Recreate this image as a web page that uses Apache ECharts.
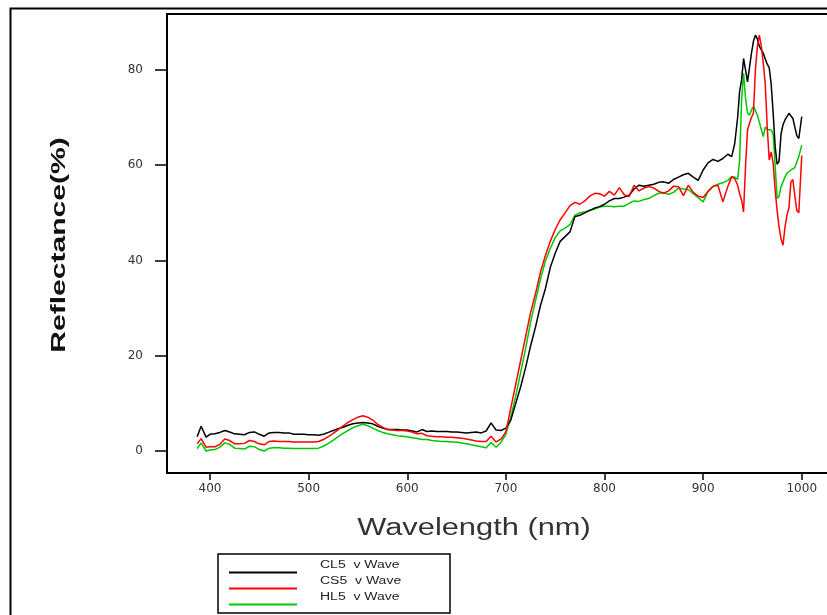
<!DOCTYPE html>
<html>
<head>
<meta charset="utf-8">
<script src="https://cdn.jsdelivr.net/npm/echarts@6/dist/echarts.min.js"></script>
<style>
  html, body { margin: 0; padding: 0; background: #ffffff; }
  #chart { width: 827px; height: 615px; }
</style>
</head>
<body>
<div id="chart"></div>
<script>
// Wavelength samples (nm)
const wavelength = [
  387, 391, 396,
  400, 405, 410, 415, 420, 425, 430, 435, 440, 445,
  450, 455, 460, 465, 470, 475, 480, 485, 490, 495,
  500, 505, 510, 515, 520, 525, 530, 535, 540, 545,
  550, 555, 560, 565, 570, 575, 580, 585, 590, 595,
  600, 605, 610, 615, 620, 625, 630, 635, 640, 645,
  650, 655, 660, 665, 670, 675, 680, 685, 690, 695,
  700, 705, 710, 715, 720, 725, 730, 735, 740, 745,
  750, 755, 760, 765, 770, 775, 780, 785, 790, 795,
  800, 805, 810, 815, 820, 825, 830, 835, 840, 845,
  850, 855, 860, 865, 870, 875, 880, 885, 890, 895,
  900, 905, 910, 915, 920, 925,
  929, 932, 935,
  937, 939, 941, 943, 945, 947, 949, 951, 953, 955,
  957, 959, 961, 963, 965, 967, 969, 971, 973, 975,
  977, 979, 981, 983, 985, 987, 989, 991, 993, 995,
  997, 1000
];

// Reflectance (%) per sample
const cl5 = [
  3.0, 5.2, 2.9,
  3.5, 3.6, 3.9, 4.3, 4.0, 3.6, 3.5, 3.4, 3.9, 4.0,
  3.5, 3.1, 3.8, 3.9, 3.9, 3.8, 3.8, 3.5, 3.5, 3.5,
  3.4, 3.4, 3.3, 3.5, 3.9, 4.3, 4.7, 5.0, 5.4, 5.7,
  5.9, 6.0, 5.9, 5.7, 5.2, 4.8, 4.5, 4.5, 4.5, 4.4,
  4.4, 4.2, 4.0, 4.5, 4.1, 4.2, 4.1, 4.1, 4.1, 4.0,
  4.0, 3.9, 3.8, 3.9, 4.0, 3.8, 4.2, 5.9, 4.4, 4.3,
  4.8, 6.5, 10.0, 13.5, 17.5, 22.0, 26.0, 30.5, 34.0, 38.5,
  41.5, 44.0, 45.0, 46.0, 49.2, 49.5, 50.0, 50.5, 51.0, 51.3,
  51.8, 52.5, 53.0, 53.0, 53.3, 53.7, 55.0, 55.8, 55.6, 55.8,
  56.0, 56.4, 56.5, 56.2, 57.0, 57.5, 58.0, 58.3, 57.5, 56.8,
  59.0, 60.5, 61.2, 60.8, 61.4, 62.3,
  61.8, 64.5, 70.0,
  75.5, 77.9, 82.4, 80.0, 77.5, 80.5, 83.5, 86.0, 87.3, 86.5,
  85.0, 84.2, 83.5, 82.3, 81.2, 80.5, 77.0, 71.0, 64.0, 60.2,
  60.8, 66.5, 68.5, 69.5, 70.2, 70.9, 70.6, 69.8, 68.0, 66.2,
  65.6, 70.2
];

const cs5 = [
  1.5, 2.6, 0.8,
  0.9, 0.9, 1.4, 2.5, 2.2, 1.5, 1.5, 1.6, 2.2, 2.0,
  1.5, 1.3, 2.0, 2.1, 2.0, 2.0, 2.0, 1.9, 1.9, 1.9,
  1.9, 1.9, 2.0, 2.4, 3.0, 3.7, 4.5, 5.3, 6.0, 6.6,
  7.1, 7.4, 7.1, 6.5, 5.6, 5.0, 4.5, 4.4, 4.3, 4.3,
  4.2, 4.0, 3.6, 3.7, 3.2, 3.1, 3.0, 3.0, 2.9, 2.9,
  2.8, 2.7, 2.5, 2.3, 2.1, 2.0, 2.0, 3.1, 1.9, 2.5,
  4.0, 9.0, 14.0, 19.0, 24.0, 29.0, 33.0, 37.5, 41.0, 44.0,
  46.5, 48.5, 50.0, 51.5, 52.2, 51.8, 52.5, 53.5, 54.1, 54.0,
  53.5, 54.5, 53.7, 55.3, 53.8, 53.4, 55.8, 54.6, 55.2, 55.5,
  55.2, 54.5, 54.1, 54.6, 55.6, 55.5, 53.6, 55.8, 54.3, 53.5,
  53.2, 54.5, 55.6, 55.8, 52.3, 55.5,
  57.6, 57.2, 55.8,
  54.0, 52.7, 50.2, 59.7, 67.4, 68.8, 70.0, 70.9, 80.0, 84.9,
  87.3, 85.0, 81.4, 77.0, 68.0, 61.1, 62.8, 60.4, 54.8, 50.5,
  47.0, 44.5, 43.2, 47.0, 49.5, 51.0, 56.5, 57.0, 53.5, 50.5,
  50.0, 62.0
];

const hl5 = [
  0.5, 1.7, 0.0,
  0.2, 0.3, 0.8, 1.7, 1.4, 0.6, 0.5, 0.4, 1.0, 0.9,
  0.3, 0.0, 0.6, 0.7, 0.7, 0.6, 0.6, 0.5, 0.5, 0.5,
  0.5, 0.5, 0.6, 1.0, 1.6, 2.3, 3.0, 3.7, 4.3, 4.9,
  5.3, 5.6, 5.3, 4.8, 4.3, 3.9, 3.6, 3.4, 3.2, 3.1,
  3.0, 2.8, 2.6, 2.4, 2.4, 2.2, 2.1, 2.0, 2.0, 1.9,
  1.9, 1.7, 1.5, 1.3, 1.1, 0.9, 0.7, 1.8, 0.8, 1.8,
  3.5, 7.1, 11.5, 16.5, 21.5, 27.0, 31.5, 36.0, 39.8, 42.5,
  44.8, 46.2, 46.8, 47.5, 49.5, 50.0, 50.2, 50.5, 50.8, 51.2,
  51.4, 51.4, 51.3, 51.4, 51.4, 52.0, 52.5, 52.4, 52.8, 53.0,
  53.6, 54.1, 54.2, 53.9, 54.3, 55.2, 55.0, 54.9, 54.0, 53.2,
  52.3, 54.5, 55.5, 56.0, 56.3, 56.8,
  57.6, 57.5, 57.0,
  61.0, 73.7, 79.3, 74.0, 71.0, 70.5, 71.6, 72.3, 71.5, 70.5,
  69.0, 67.5, 66.0, 68.0, 67.5, 67.2, 67.4, 66.5, 60.0, 53.0,
  53.5, 55.5, 56.5, 57.5, 58.3, 58.6, 59.0, 59.2, 59.5, 59.7,
  61.8, 64.2
];

const xTicks = [400, 500, 600, 700, 800, 900, 1000];
const yTicks = [0, 20, 40, 60, 80];

const seriesNames = ['CL5  v Wave', 'CS5  v Wave', 'HL5  v Wave'];
const seriesColors = ['#000000', '#ff0000', '#00c800'];

const pairs = vals => wavelength.map((w, i) => [w, vals[i]]);

const chart = echarts.init(document.getElementById('chart'), null, { renderer: 'canvas' });

const lineSeries = (name, color, vals, z) => ({
  name: name,
  type: 'line',
  data: pairs(vals),
  showSymbol: false,
  symbol: 'none',
  smooth: false,
  z: z,
  lineStyle: { color: color, width: 1.5 },
  itemStyle: { color: color },
  emphasis: { disabled: true }
});

// legend box drawn below the plot
const legendX = 218, legendY = 554;
const legendItems = [];
seriesNames.forEach((name, i) => {
  legendItems.push({
    type: 'line',
    shape: { x1: legendX + 11, y1: legendY + 18.5 + i * 16, x2: legendX + 79, y2: legendY + 18.5 + i * 16 },
    style: { stroke: seriesColors[i], lineWidth: 2 }
  });
  legendItems.push({
    type: 'text',
    x: legendX + 102,
    y: legendY + 11 + i * 16,
    scaleX: 1.4,
    style: {
      text: name,
      fill: '#222',
      font: '10px "Liberation Sans", Arial, sans-serif',
      textAlign: 'left',
      textVerticalAlign: 'middle'
    }
  });
});

const X_MIN = 356.4, X_MAX = 1025.6;

chart.setOption({
  animation: false,
  backgroundColor: '#ffffff',
  grid: {
    left: 167,
    top: 14,
    right: 0,
    bottom: 142,
    show: false,
    containLabel: false
  },
  xAxis: [
    {
      type: 'value',
      position: 'bottom',
      min: X_MIN,
      max: X_MAX,
      splitLine: { show: false },
      axisLine: { show: true, onZero: false, lineStyle: { color: '#000', width: 2 } },
      axisTick: {
        show: true,
        inside: false,
        length: 7,
        customValues: xTicks,
        lineStyle: { color: '#000', width: 1.5 }
      },
      axisLabel: {
        show: true,
        customValues: xTicks,
        formatter: v => String(v),
        margin: 10,
        color: '#333',
        fontSize: 12,
        fontFamily: 'DejaVu Sans'
      }
    },
    {
      // top edge of the plot frame
      type: 'value',
      position: 'top',
      min: X_MIN,
      max: X_MAX,
      splitLine: { show: false },
      axisLine: { show: true, onZero: false, lineStyle: { color: '#000', width: 2 } },
      axisTick: { show: false },
      axisLabel: { show: false }
    }
  ],
  yAxis: {
    type: 'value',
    min: -4.62,
    max: 91.74,
    splitLine: { show: false },
    axisLine: { show: true, onZero: false, lineStyle: { color: '#000', width: 2 } },
    axisTick: {
      show: true,
      inside: false,
      length: 12,
      customValues: yTicks,
      lineStyle: { color: '#000', width: 1.5 }
    },
    axisLabel: {
      show: true,
      customValues: yTicks,
      formatter: v => String(v),
      margin: 24,
      color: '#333',
      fontSize: 12,
      fontFamily: 'DejaVu Sans',
      verticalAlign: 'middle',
      padding: [0, 0, 16, 0]
    }
  },
  series: [
    lineSeries(seriesNames[2], seriesColors[2], hl5, 2),
    lineSeries(seriesNames[0], seriesColors[0], cl5, 3),
    lineSeries(seriesNames[1], seriesColors[1], cs5, 4)
  ],
  graphic: [
    {
      type: 'rect',
      silent: true,
      shape: { x: 10.5, y: 8.5, width: 900, height: 700 },
      style: { fill: 'none', stroke: '#000', lineWidth: 2 }
    },
    {
      type: 'text',
      x: 59,
      y: 245,
      rotation: Math.PI / 2,
      scaleX: 1.43,
      style: {
        text: 'Reflectance(%)',
        fill: '#111',
        font: 'bold 21px "Liberation Sans", Arial, sans-serif',
        textAlign: 'center',
        textVerticalAlign: 'middle'
      }
    },
    {
      type: 'text',
      x: 474,
      y: 529,
      scaleX: 1.34,
      style: {
        text: 'Wavelength (nm)',
        fill: '#333',
        font: '23px "Liberation Sans", Arial, sans-serif',
        textAlign: 'center',
        textVerticalAlign: 'middle'
      }
    },
    {
      type: 'rect',
      silent: true,
      shape: { x: legendX, y: legendY, width: 232, height: 59 },
      style: { fill: '#fff', stroke: '#000', lineWidth: 1.5 }
    }
  ].concat(legendItems)
});
</script>
</body>
</html>
